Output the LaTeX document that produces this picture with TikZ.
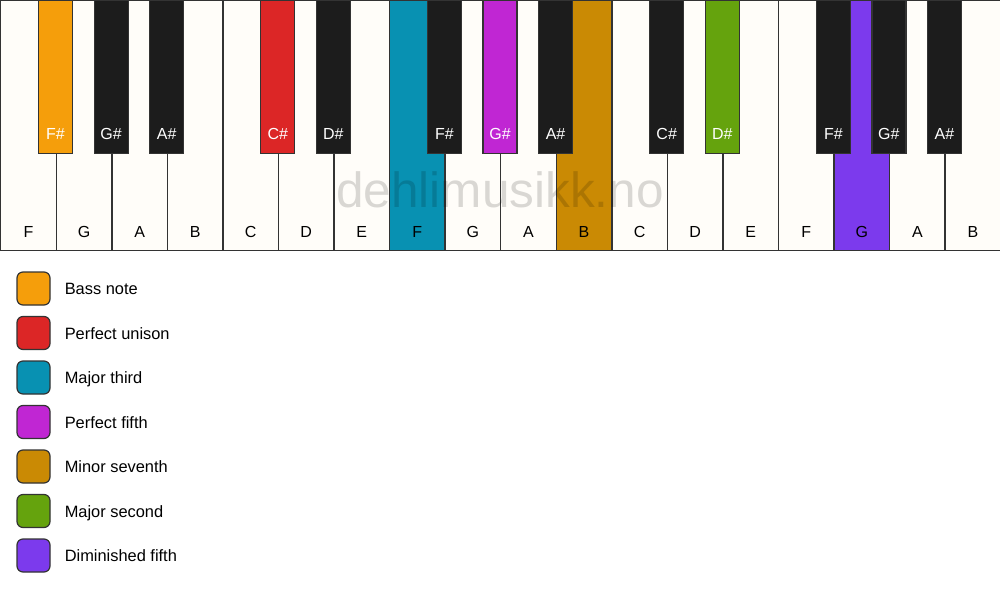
\documentclass[tikz,border=0pt]{standalone}
\usepackage{fontspec}
\setmainfont{Liberation Sans}
\usetikzlibrary{positioning}

\definecolor{keywhite}{HTML}{FFFDF9}
\definecolor{keyblack}{HTML}{1C1C1C}
\definecolor{keyline}{HTML}{333333}
\definecolor{bassnote}{HTML}{F59E0B}
\definecolor{unison}{HTML}{DC2626}
\definecolor{majthird}{HTML}{0891B2}
\definecolor{perffifth}{HTML}{C026D3}
\definecolor{minseventh}{HTML}{CA8A04}
\definecolor{majsecond}{HTML}{65A30D}
\definecolor{dimfifth}{HTML}{7C3AED}

\begin{document}
\begin{tikzpicture}[x=1pt, y=-1pt,
            whitekey/.style={rectangle, draw=keyline, line width=1.4pt, anchor=north west,
                    minimum width=55.556pt, minimum height=250pt, inner sep=0pt},
            blackkey/.style={rectangle, draw=keyline, line width=1.2pt, anchor=north,
                    minimum width=34pt, minimum height=153pt, inner sep=0pt},
            keylabel/.style={anchor=base, inner sep=0pt, font=\fontsize{16pt}{19pt}\selectfont},
            legendbox/.style={rectangle, rounded corners=6pt, draw=keyline, line width=1.2pt,
                    minimum size=33pt, inner sep=0pt},
            legendtext/.style={anchor=base west, inner sep=0pt, font=\fontsize{16.4pt}{19pt}\selectfont},
            watermark/.style={anchor=base, inner sep=0pt, text=black, text opacity=0.15,
                    font=\fontsize{49.5pt}{56pt}\selectfont}
        ]

        % Page and its margins
        \fill[white] (0,0) rectangle (1000,594);
        \useasboundingbox (0,0) rectangle (1000,594);

        % White keys, from F to B over two and a half octaves
        \foreach \name/\col [count=\i from 0] in {F/keywhite, G/keywhite, A/keywhite, B/keywhite,
                C/keywhite, D/keywhite, E/keywhite, F/majthird, G/keywhite, A/keywhite, B/minseventh,
                C/keywhite, D/keywhite, E/keywhite, F/keywhite, G/dimfifth, A/keywhite, B/keywhite} {
                \node[whitekey, fill=\col] (W\i) at ({\i*55.556}, 0) {};
                \node[keylabel] at ([yshift=14pt]W\i.south) {\name};
            }

        % Black keys sit on the border between two white keys
        \foreach \name/\col/\k in {F/bassnote/1, G/keyblack/2, A/keyblack/3, C/unison/5, D/keyblack/6,
                F/keyblack/8, G/perffifth/9, A/keyblack/10, C/keyblack/12, D/majsecond/13,
                F/keyblack/15, G/keyblack/16, A/keyblack/17} {
                \node[blackkey, fill=\col] (B\k) at ({\k*55.556}, 0) {};
                \node[keylabel, text=white] at ([yshift=15pt]B\k.south) {\name\#};
            }

        % Watermark across the white keys
        \node[watermark] (wm) at (500, 207) {dehlimusikk.no};

        % Legend of the intervals
        \foreach \lbl/\col [count=\j from 0] in {Bass note/bassnote, Perfect unison/unison,
                Major third/majthird, Perfect fifth/perffifth, Minor seventh/minseventh,
                Major second/majsecond, Diminished fifth/dimfifth} {
                \node[legendbox, fill=\col] (L\j) at (33.5, {288.5+44.5*\j}) {};
                \node[legendtext] (T\j) at ([xshift=14pt, yshift=-6pt]L\j.east) {\lbl};
            }
    \end{tikzpicture}
\end{document}
